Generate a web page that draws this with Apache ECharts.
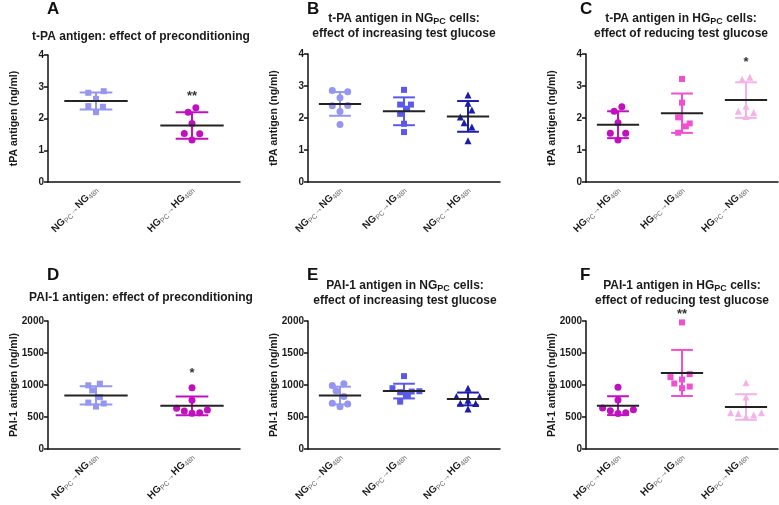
<!DOCTYPE html>
<html><head><meta charset="utf-8">
<script src="https://cdn.jsdelivr.net/npm/echarts@6/dist/echarts.min.js"></script>
<style>html,body{margin:0;padding:0;background:#fff}#c{width:779px;height:505px}</style>
</head><body><div id="c"></div>
<script>
// ---------- data ----------
// category labels: [preconditioning, test]
const catsA = [['NG','NG'],['HG','HG']];
const catsB = [['NG','NG'],['NG','IG'],['NG','HG']];
const catsC = [['HG','HG'],['HG','IG'],['HG','NG']];
const tpaTicks = [0,1,2,3,4];
const paiTicks = [0,500,1000,1500,2000];

// Panel A (t-PA, ng/ml)
const A_NGNG = [2.81, 2.86, 2.62, 2.39, 2.37, 2.20];
const A_NGNG_slot = [-1, 1, 0, -1, 0.9, 0];
const A_HGHG = [2.20, 2.34, 1.84, 1.53, 1.52, 1.32];
const A_HGHG_slot = [-0.5, 0.5, 0, -1, 1, 0];
const A_mean = [2.55, 1.78];
const A_sd = [0.265, 0.415];
const A_sig = [null, '**'];
const A_sigY = [null, 2.79];

// Panel B
const B_NGNG = [2.86, 2.82, 2.63, 2.38, 2.39, 2.20, 1.80];
const B_NGNG_slot = [-1, 1, 0, -1, 1, 0, 0];
const B_NGIG = [2.88, 2.42, 2.42, 2.29, 2.13, 1.82, 1.56];
const B_NGIG_slot = [0, -0.5, 0.9, 0.4, -0.5, 0, 0];
const B_NGHG = [2.72, 2.46, 2.25, 2.03, 1.85, 1.72, 1.29];
const B_NGHG_slot = [0, 0, 0.5, -1, -0.5, 0.5, 0];
const B_mean = [2.44, 2.21, 2.05];
const B_sd = [0.37, 0.435, 0.48];

// Panel C
const C_HGHG = [2.21, 2.35, 1.85, 1.52, 1.52, 1.31];
const C_HGHG_slot = [-0.5, 0.5, 0, -1, 1, 0];
const C_HGIG = [3.22, 2.48, 2.02, 1.83, 1.74, 1.54];
const C_HGIG_slot = [0, 0, -0.5, 1, 0.5, -0.5];
const C_HGNG = [3.21, 3.27, 2.37, 2.21, 2.17, 2.05];
const C_HGNG_slot = [-0.5, 0.5, 0, -1, 1, 0];
const C_mean = [1.79, 2.15, 2.56];
const C_sd = [0.42, 0.615, 0.555];
const C_sig = [null, null, '*'];
const C_sigY = [null, null, 3.84];

// Panel D (PAI-1, ng/ml)
const D_NGNG = [995, 1021, 916, 810, 726, 711, 663];
const D_NGNG_slot = [-1, 0.5, -0.5, 0.5, -1, 1, 0];
const D_HGHG = [958, 763, 637, 610, 595, 568, 558];
const D_HGHG_slot = [0, 0, -2, 2, -1, 1, 0];
const D_mean = [837, 674];
const D_sd = [142, 147];
const D_sig = [null, '*'];
const D_sigY = [null, 1221];

// Panel E
const E_NGNG = [992, 1018, 908, 819, 714, 703, 661];
const E_NGNG_slot = [-1, 0.5, -0.5, 0.5, -1, 1, 0];
const E_NGIG = [1139, 950, 887, 845, 903, 898, 740];
const E_NGIG_slot = [0, -1.5, -0.5, 0.5, 2, 1, -0.5];
const E_NGHG = [950, 819, 819, 761, 714, 709, 625];
const E_NGHG_slot = [0, -1.5, 1.5, 0, -1, 1, 0];
const E_mean = [835, 905, 782];
const E_sd = [139, 115, 100];

// Panel F
const F_HGHG = [965, 766, 640, 614, 598, 567, 556];
const F_HGHG_slot = [0, 0, -2, 2, -1, 1, 0];
const F_HGIG = [1978, 1170, 1123, 1086, 1023, 950, 976];
const F_HGIG_slot = [0, 1, -1.5, 0, -1, 0, 1];
const F_HGNG = [1034, 813, 567, 556, 530, 567, 504];
const F_HGNG_slot = [0, 0, -2, -1, 1, 2, 0];
const F_mean = [677, 1188, 656];
const F_sd = [147, 360, 200];
const F_sig = [null, '**', null];
const F_sigY = [null, 2156, null];

// ---------- styles ----------
const FONT = 'Arial, "Liberation Sans", Helvetica, sans-serif';
const COL = {
  NGNG: '#9595f2', NGIG: '#5a5aea', NGHG: '#1c1cab',
  HGHG: '#c010c0', HGIG: '#ef4fd0', HGNG: '#f5b2e8'
};
const SLOT = 7.7;

const chart = echarts.init(document.getElementById('c'));

const grids = [
  {left: 48, top: 55, width: 192, height: 127},
  {left: 308, top: 54, width: 192, height: 128},
  {left: 586, top: 54, width: 192, height: 128},
  {left: 48, top: 321, width: 192, height: 128},
  {left: 308, top: 321, width: 192, height: 128},
  {left: 586, top: 321, width: 192, height: 128}
];
const panelCats = [catsA, catsB, catsC, catsA, catsB, catsC];
const panelTicks = [tpaTicks, tpaTicks, tpaTicks, paiTicks, paiTicks, paiTicks];
const yNames = ['tPA antigen (ng/ml)', 'tPA antigen (ng/ml)', 'tPA antigen (ng/ml)',
  'PAI-1 antigen (ng/ml)', 'PAI-1 antigen (ng/ml)', 'PAI-1 antigen (ng/ml)'];

const labelRich = {
  b: {fontFamily: FONT, fontWeight: 'bold', fontSize: 10, color: '#1a1a1a', lineHeight: 12},
  s: {fontFamily: FONT, fontSize: 7, color: '#666', lineHeight: 12, verticalAlign: 'bottom', padding: [3, 0, 0, 0]},
  a: {fontFamily: FONT, fontSize: 9, color: '#666', lineHeight: 12}
};

const xAxes = grids.map((g, gi) => ({
  type: 'category', gridIndex: gi,
  data: panelCats[gi].map(c => c[0] + '>' + c[1]),
  boundaryGap: true,
  axisLine: {lineStyle: {color: '#111', width: 1.5}},
  axisTick: {alignWithLabel: true, length: 4, lineStyle: {color: '#111', width: 1.5}},
  axisLabel: {
    interval: 0, rotate: 45, margin: 6,
    formatter: v => { const p = v.split('>'); return '{b|' + p[0] + '}{s|PC}{a|\u2192}{b|' + p[1] + '}{s|48h}'; },
    rich: labelRich
  },
  splitLine: {show: false}
}));

const yAxes = grids.map((g, gi) => {
  const t = panelTicks[gi];
  return {
    type: 'value', gridIndex: gi, min: t[0], max: t[t.length - 1], interval: t[1] - t[0],
    name: yNames[gi], nameLocation: 'middle', nameGap: 28, nameMoveOverlap: false,
    nameTextStyle: {fontFamily: FONT, fontWeight: 'bold', fontSize: 10.5, color: '#1a1a1a'},
    axisLine: {show: true, lineStyle: {color: '#111', width: 1.5}},
    axisTick: {show: true, length: 4, lineStyle: {color: '#111', width: 1.5}},
    axisLabel: {fontFamily: FONT, fontWeight: 'bold', fontSize: 10, color: '#1a1a1a', margin: 4,
      formatter: v => String(v)},
    splitLine: {show: false}
  };
});

const series = [];
function pts(gi, cat, vals, slots, color, symbol, size) {
  series.push({
    type: 'scatter', xAxisIndex: gi, yAxisIndex: gi, symbol: symbol, symbolSize: size,
    itemStyle: {color: color, opacity: 1}, z: 3, silent: true,
    data: vals.map((v, k) => ({value: [cat, v], symbolOffset: [slots[k] * SLOT, 0]}))
  });
}
function meanSd(gi, means, sds, colors) {
  series.push({
    type: 'custom', xAxisIndex: gi, yAxisIndex: gi, z: 4, silent: true,
    data: means.map((m, i) => [i, m, sds[i]]),
    renderItem: (params, api) => {
      const i = api.value(0), m = api.value(1), s = api.value(2);
      const c = api.coord([i, m]);
      const top = api.coord([i, m + s]), bot = api.coord([i, m - s]);
      const bw = api.size([1, 0])[0];
      const hw = bw * 0.33, cw = bw * 0.17;
      const col = colors[i];
      return {type: 'group', children: [
        {type: 'line', shape: {x1: c[0], y1: top[1], x2: c[0], y2: bot[1]}, style: {stroke: col, lineWidth: 2}},
        {type: 'line', shape: {x1: c[0] - cw, y1: top[1], x2: c[0] + cw, y2: top[1]}, style: {stroke: col, lineWidth: 2}},
        {type: 'line', shape: {x1: c[0] - cw, y1: bot[1], x2: c[0] + cw, y2: bot[1]}, style: {stroke: col, lineWidth: 2}},
        {type: 'line', shape: {x1: c[0] - hw, y1: c[1], x2: c[0] + hw, y2: c[1]}, style: {stroke: '#222', lineWidth: 2}}
      ]};
    }
  });
}
function sig(gi, marks, ys) {
  const d = [];
  marks.forEach((m, i) => { if (m) d.push([i, ys[i], m]); });
  series.push({
    type: 'custom', xAxisIndex: gi, yAxisIndex: gi, z: 5, silent: true, clip: false,
    data: d,
    renderItem: (params, api) => {
      const p = api.coord([api.value(0), api.value(1)]);
      const txt = d[params.dataIndex][2];
      return {type: 'text', x: p[0], y: p[1] + 3, style: {text: txt, textAlign: 'center', textVerticalAlign: 'middle',
        font: 'bold 13px ' + FONT, fill: '#333'}};
    }
  });
}

// A
pts(0, 0, A_NGNG, A_NGNG_slot, COL.NGNG, 'rect', 6);
pts(0, 1, A_HGHG, A_HGHG_slot, COL.HGHG, 'circle', 7);
meanSd(0, A_mean, A_sd, [COL.NGNG, COL.HGHG]);
sig(0, A_sig, A_sigY);
// B
pts(1, 0, B_NGNG, B_NGNG_slot, COL.NGNG, 'circle', 7);
pts(1, 1, B_NGIG, B_NGIG_slot, COL.NGIG, 'rect', 6);
pts(1, 2, B_NGHG, B_NGHG_slot, COL.NGHG, 'triangle', 7);
meanSd(1, B_mean, B_sd, [COL.NGNG, COL.NGIG, COL.NGHG]);
// C
pts(2, 0, C_HGHG, C_HGHG_slot, COL.HGHG, 'circle', 7);
pts(2, 1, C_HGIG, C_HGIG_slot, COL.HGIG, 'rect', 6);
pts(2, 2, C_HGNG, C_HGNG_slot, COL.HGNG, 'triangle', 7);
meanSd(2, C_mean, C_sd, [COL.HGHG, COL.HGIG, COL.HGNG]);
sig(2, C_sig, C_sigY);
// D
pts(3, 0, D_NGNG, D_NGNG_slot, COL.NGNG, 'rect', 6);
pts(3, 1, D_HGHG, D_HGHG_slot, COL.HGHG, 'circle', 7);
meanSd(3, D_mean, D_sd, [COL.NGNG, COL.HGHG]);
sig(3, D_sig, D_sigY);
// E
pts(4, 0, E_NGNG, E_NGNG_slot, COL.NGNG, 'circle', 7);
pts(4, 1, E_NGIG, E_NGIG_slot, COL.NGIG, 'rect', 6);
pts(4, 2, E_NGHG, E_NGHG_slot, COL.NGHG, 'triangle', 7);
meanSd(4, E_mean, E_sd, [COL.NGNG, COL.NGIG, COL.NGHG]);
// F
pts(5, 0, F_HGHG, F_HGHG_slot, COL.HGHG, 'circle', 7);
pts(5, 1, F_HGIG, F_HGIG_slot, COL.HGIG, 'rect', 6);
pts(5, 2, F_HGNG, F_HGNG_slot, COL.HGNG, 'triangle', 7);
meanSd(5, F_mean, F_sd, [COL.HGHG, COL.HGIG, COL.HGNG]);
sig(5, F_sig, F_sigY);

const titleRich = {
  s: {fontFamily: FONT, fontWeight: 'bold', fontSize: 9, color: '#1a1a1a', verticalAlign: 'bottom', lineHeight: 15, padding: [4, 0, 0, 0]},
  t: {fontFamily: FONT, fontWeight: 'bold', fontSize: 12, color: '#1a1a1a', lineHeight: 15}
};
function letter(txt, x, y) {
  return {text: txt, left: x, top: y, padding: 0,
    textStyle: {fontFamily: FONT, fontWeight: 'bold', fontSize: 17, color: '#111'}};
}
function ttl(txt, cx, y) {
  return {text: txt, left: cx, top: y, textAlign: 'center', padding: 0,
    textStyle: {fontFamily: FONT, fontWeight: 'bold', fontSize: 12, color: '#1a1a1a', lineHeight: 15, rich: titleRich}};
}

const titles = [
  letter('A', 47, 1), ttl('t-PA antigen: effect of preconditioning', 141, 29),
  letter('B', 307, 1), ttl('{t|t-PA antigen in NG}{s|PC}{t| cells:}\n{t|effect of increasing test glucose}', 404, 11),
  letter('C', 580, 1), ttl('{t|t-PA antigen in HG}{s|PC}{t| cells:}\n{t|effect of reducing test glucose}', 681, 11),
  letter('D', 47, 267), ttl('PAI-1 antigen: effect of preconditioning', 141, 290),
  letter('E', 307, 267), ttl('{t|PAI-1 antigen in NG}{s|PC}{t| cells:}\n{t|effect of increasing test glucose}', 405, 278),
  letter('F', 580, 267), ttl('{t|PAI-1 antigen in HG}{s|PC}{t| cells:}\n{t|effect of reducing test glucose}', 682, 278)
];

chart.setOption({
  animation: false,
  backgroundColor: '#fff',
  title: titles,
  grid: grids,
  xAxis: xAxes,
  yAxis: yAxes,
  series: series
});
</script>
</body></html>
